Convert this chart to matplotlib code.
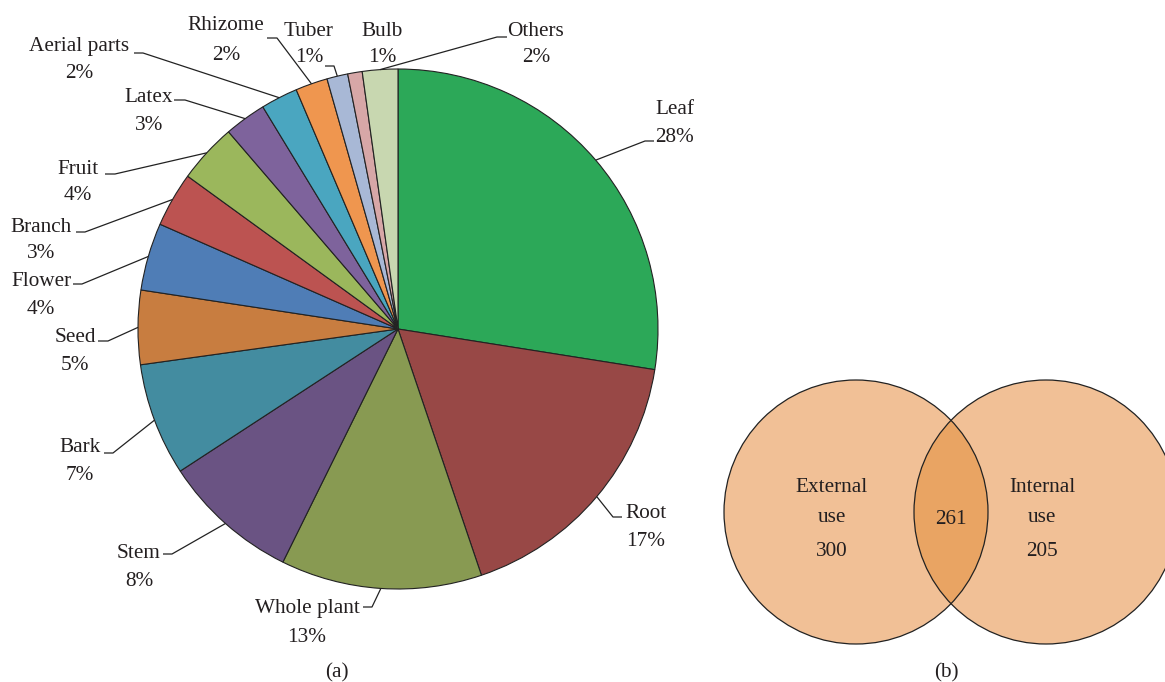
import numpy as np
import matplotlib.pyplot as plt
from matplotlib.patches import Circle

# Plant parts used (share of the pie) and printed labels
parts = ['Leaf', 'Root', 'Whole plant', 'Stem', 'Bark', 'Seed', 'Flower', 'Branch',
         'Fruit', 'Latex', 'Aerial parts', 'Rhizome', 'Tuber', 'Bulb', 'Others']
shares = [27.5, 17.3, 12.5, 8.5, 7.0, 4.6, 4.2, 3.4, 3.7, 2.6, 2.3, 2.0, 1.3, 0.9, 2.2]
pct_labels = ['28%', '17%', '13%', '8%', '7%', '5%', '4%', '3%',
              '4%', '3%', '2%', '2%', '1%', '1%', '2%']
colors = ['#2CA858', '#984846', '#889A52', '#6A5383', '#438CA0', '#C87D40', '#4F7DB6',
          '#BC5351', '#9BB75C', '#7E639C', '#4AA6C0', '#EF964F', '#A8B8D6', '#D7A7A7',
          '#C8D7B0']

# Venn counts
venn_labels = [['External', 'use'], ['Internal', 'use']]
only_external = 300
shared = 261
only_internal = 205

W, H = 1165, 682
TXT = '#231F20'
FS = 15.3
DY = 3  # text nudge down (va='center' sits a bit high)
plt.rcParams['font.family'] = ['Liberation Serif', 'DejaVu Serif']


def px(x, y):
    # pixel coords (y down) -> data coords (y up)
    return x, H - y


def label(x, y, s, **kw):
    ax.text(x, H - y - DY, s, ha='center', va='center', fontsize=FS, color=TXT,
            zorder=4, **kw)


fig = plt.figure(figsize=(W / 100, H / 100), dpi=100)
ax = fig.add_axes([0, 0, 1, 1])

# ---- (a) pie ----
cx, cy = px(398, 329)
R = 260
wedges, _ = ax.pie(shares, colors=colors, startangle=90, counterclock=False,
                   center=(cx, cy), radius=R,
                   wedgeprops=dict(edgecolor='#222222', linewidth=0.8))

# label layout: elbow, end of leader, text x, name y, pct y (pixels)
layout = {
    'Leaf': ((645, 141), (654, 141), 675, 107, 134),
    'Root': ((613, 517), (622, 517), 646, 511, 539),
    'Whole plant': ((372, 607), (363, 607), 307, 606, 634),
    'Stem': ((172, 554), (163, 554), 139, 551, 579),
    'Bark': ((113, 453), (104, 453), 80, 444, 473),
    'Seed': ((108, 341), (98, 341), 75, 335, 362),
    'Flower': ((82, 284), (73, 284), 41, 279, 307),
    'Branch': ((85, 232), (76, 232), 41, 225, 251),
    'Fruit': ((115, 174), (105, 174), 78, 167, 192),
    'Latex': ((185, 100), (174, 100), 149, 95, 122),
    'Aerial parts': ((143, 53), (134, 53), 79, 43, 71),
    'Rhizome': ((277, 38), (267, 38), 226, 23, 52),
    'Tuber': ((334, 66), (325, 66), 309, 28, 55),
    'Bulb': (None, None, 382, 28, 55),
    'Others': ((497, 37), (507, 37), 536, 28, 55),
}

for w, name, pct in zip(wedges, parts, pct_labels):
    mid = np.deg2rad((w.theta1 + w.theta2) / 2)
    sx, sy = cx + R * np.cos(mid), cy + R * np.sin(mid)
    elbow, end, tx, ny1, ny2 = layout[name]
    if elbow is not None:
        ex, ey = px(*elbow)
        nx, ny = px(*end)
        ax.plot([sx, ex, nx], [sy, ey, ny], color='#222222', lw=0.9,
                solid_capstyle='butt', zorder=3)
    label(tx, ny1, name)
    label(tx, ny2, pct)

label(337, 670, '(a)')

# ---- (b) Venn ----
vr = 132
lc = px(856, 512)
rc = px(1046, 512)
ax.add_patch(Circle(lc, vr, facecolor='#F1C096', edgecolor='none', zorder=1))
ax.add_patch(Circle(rc, vr, facecolor='#F1C096', edgecolor='none', zorder=1))
lens = Circle(rc, vr, facecolor='#E9A463', edgecolor='none', zorder=2)
ax.add_patch(lens)
lens.set_clip_path(Circle(lc, vr, transform=ax.transData))
for c in (lc, rc):
    ax.add_patch(Circle(c, vr, facecolor='none', edgecolor='#222222', lw=0.9, zorder=3))

for (w1, w2), n, x in zip(venn_labels, [only_external, only_internal], [832, 1042]):
    label(x, 484, w1)
    label(x, 515, w2)
    label(x, 549, f'{n}')
label(951, 517, f'{shared}')
label(946, 670, '(b)')

ax.set_xlim(0, W)
ax.set_ylim(0, H)
ax.set_aspect('equal')
ax.axis('off')

fig.savefig('out.png', dpi=100)
